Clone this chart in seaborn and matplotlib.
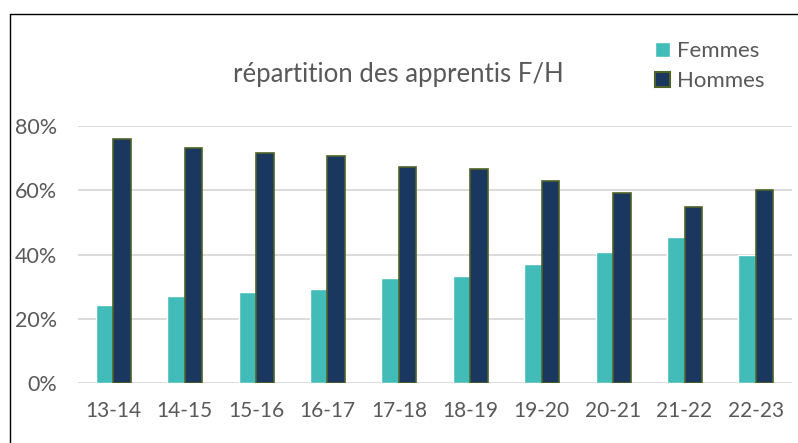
import seaborn as sns
import matplotlib.pyplot as plt
import pandas as pd
from matplotlib.lines import Line2D
from matplotlib.ticker import PercentFormatter

# données
annees = ["13-14", "14-15", "15-16", "16-17", "17-18", "18-19", "19-20", "20-21", "21-22", "22-23"]
femmes = [0.242, 0.270, 0.284, 0.294, 0.327, 0.334, 0.371, 0.408, 0.453, 0.400]
hommes = [0.758, 0.730, 0.716, 0.706, 0.673, 0.666, 0.629, 0.592, 0.547, 0.600]

df = pd.DataFrame({"annee": annees * 2,
                   "part": femmes + hommes,
                   "sexe": ["Femmes"] * len(annees) + ["Hommes"] * len(annees)})

sns.set_style("white")
plt.rcParams["font.family"] = ["Lato", "DejaVu Sans"]
gris = "#595959"

fig = plt.figure(figsize=(7.98, 4.43), dpi=100)
ax = fig.add_axes([0.0972, 0.1348, 0.8948, 0.5814])

sns.barplot(data=df, x="annee", y="part", hue="sexe",
            palette=["#41bcb9", "#1a385f"], width=0.49, gap=0,
            saturation=1, ax=ax, legend=False)

# bordure olive sur les barres Hommes
for bar in ax.patches[len(annees):2 * len(annees)]:
    bar.set_edgecolor("#4f6228")
    bar.set_linewidth(1.2)

ax.set_ylim(0, 0.8)
ax.set_yticks([0, 0.2, 0.4, 0.6, 0.8])
ax.yaxis.set_major_formatter(PercentFormatter(1.0, decimals=0))
ax.grid(axis="y", color="#d9d9d9", linewidth=1.3)
ax.set_axisbelow(True)
sns.despine(ax=ax, left=True, bottom=True)
ax.set_xlabel("")
ax.set_ylabel("")
ax.tick_params(axis="y", length=0, pad=15, labelsize=15.5, labelcolor=gris)
ax.tick_params(axis="x", length=0, pad=13, labelsize=15, labelcolor=gris)

fig.text(0.499, 0.831, "répartition des apprentis F/H", ha="center", va="center",
         fontsize=18.5, color=gris)

# légende
handles = [plt.Rectangle((0, 0), 1, 1, facecolor="#41bcb9"),
           plt.Rectangle((0, 0), 1, 1, facecolor="#1a385f", edgecolor="#4f6228", linewidth=1.5)]
fig.legend(handles, ["Femmes", "Hommes"], loc="center left", bbox_to_anchor=(0.821, 0.851),
           frameon=False, fontsize=16, labelcolor=gris, handlelength=0.65, handleheight=0.65,
           handletextpad=0.35, labelspacing=0.45, borderpad=0, borderaxespad=0)

# cadre du graphique
fig.add_artist(Line2D([0.013, 1.0], [0.969, 0.969], color="black", linewidth=1))
fig.add_artist(Line2D([0.013, 0.013], [0.0, 0.969], color="black", linewidth=1))

fig.savefig("out.png", dpi=100)
